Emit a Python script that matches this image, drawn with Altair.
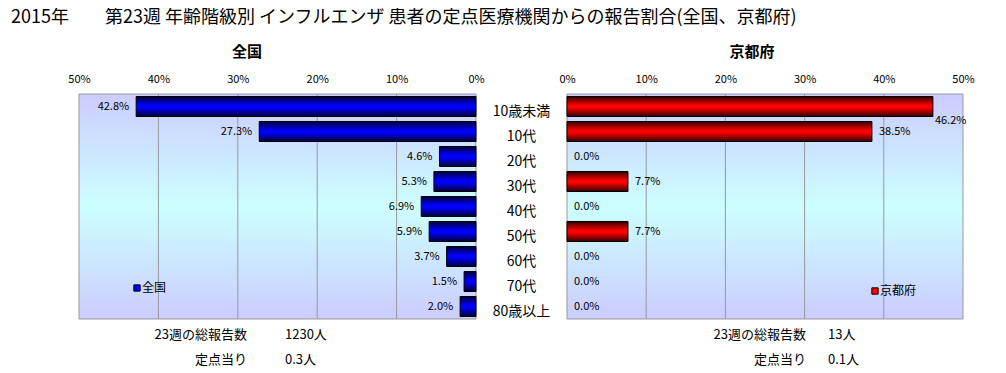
import altair as alt
import pandas as pd

# ---- data ----
ages = ["10歳未満", "10代", "20代", "30代", "40代", "50代", "60代", "70代", "80歳以上"]
national = [42.8, 27.3, 4.6, 5.3, 6.9, 5.9, 3.7, 1.5, 2.0]
kyoto = [46.2, 38.5, 0.0, 7.7, 0.0, 7.7, 0.0, 0.0, 0.0]
pct_ticks = [0, 10, 20, 30, 40, 50]
grid_ticks = [10, 20, 30, 40]
title_text = "2015年　　第23週 年齢階級別 インフルエンザ 患者の定点医療機関からの報告割合(全国、京都府)"
panel_titles = ["全国", "京都府"]
summary_labels = ["23週の総報告数", "定点当り"]
nat_summary = ["1230人", "0.3人"]
kyo_summary = ["13人", "0.1人"]

# ---- styling ----
FONT = "Noto Sans CJK JP"
W, H = 884, 225
LEFT_W = 397
RIGHT_X0 = 488
GRID = "#999999"


def vgrad(edge1, mid, edge2):
    return {
        "gradient": "linear", "x1": 0, "y1": 0, "x2": 0, "y2": 1,
        "stops": [
            {"offset": 0, "color": edge1},
            {"offset": 0.45, "color": mid},
            {"offset": 0.55, "color": mid},
            {"offset": 1, "color": edge2},
        ],
    }


BG = {
    "gradient": "linear", "x1": 0, "y1": 0, "x2": 0, "y2": 1,
    "stops": [
        {"offset": 0, "color": "#ccccff"},
        {"offset": 0.5, "color": "#ccffff"},
        {"offset": 1, "color": "#ccccff"},
    ],
}
BLUE = vgrad("#000033", "#0000ff", "#000033")
RED = vgrad("#330000", "#ff0000", "#330000")

df = pd.DataFrame({"age": ages, "nat": national, "kyo": kyoto})
one = pd.DataFrame({"k": [0]})
grid_df = pd.DataFrame({"t": grid_ticks})

left_scale = alt.Scale(domain=[0, 50], range=[LEFT_W, 0], nice=False, zero=True)
right_scale = alt.Scale(domain=[0, 50], range=[RIGHT_X0, W], nice=False, zero=True)
y_enc = alt.Y("age:N", scale=alt.Scale(domain=ages, paddingInner=0.2, paddingOuter=0.1), axis=None)


def pct_axis():
    return alt.Axis(orient="top", values=pct_ticks, labelExpr="datum.value + '%'",
                    grid=False, ticks=False, tickSize=0, domain=False, labelPadding=10,
                    labelFontSize=11, labelFont=FONT, labelColor="black",
                    labelFlush=False, labelOverlap=False, title="")


def text_layer(text, x, y, align="left", size=13, weight="normal"):
    return alt.Chart(one).mark_text(align=align, baseline="middle", fontSize=size, font=FONT,
                                    fontWeight=weight, color="black", lineHeight=25).encode(
        x=alt.value(x), y=alt.value(y), text=alt.value(text))


bg_left = alt.Chart(one).mark_rect(fill=BG, stroke=GRID, strokeWidth=1).encode(
    x=alt.value(0), x2=alt.value(LEFT_W), y=alt.value(0), y2=alt.value(H))
bg_right = alt.Chart(one).mark_rect(fill=BG, stroke=GRID, strokeWidth=1).encode(
    x=alt.value(RIGHT_X0), x2=alt.value(W), y=alt.value(0), y2=alt.value(H))

grid_left = alt.Chart(grid_df).mark_rule(color=GRID, strokeWidth=1).encode(
    x=alt.X("t:Q", scale=left_scale, axis=None), y=alt.value(0), y2=alt.value(H))
grid_right = alt.Chart(grid_df).mark_rule(color=GRID, strokeWidth=1).encode(
    x=alt.X("t:Q", scale=right_scale, axis=None), y=alt.value(0), y2=alt.value(H))

bars_left = alt.Chart(df).mark_bar(fill=BLUE, stroke="black", strokeWidth=1).encode(
    x=alt.X("nat:Q", scale=left_scale, axis=pct_axis(), stack=None), y=y_enc)
bars_right = alt.Chart(df).transform_filter("datum.kyo > 0").mark_bar(
    fill=RED, stroke="black", strokeWidth=1).encode(
    x=alt.X("kyo:Q", scale=right_scale, axis=pct_axis(), stack=None), y=y_enc)

lab_left = alt.Chart(df).transform_calculate(lbl="format(datum.nat, '.1f') + '%'").mark_text(
    align="right", baseline="middle", dx=-7, fontSize=11, font=FONT, color="black").encode(
    x=alt.X("nat:Q", scale=left_scale, axis=None), y=y_enc, text="lbl:N")
lab_right = alt.Chart(df).transform_filter("datum.kyo < 45").transform_calculate(
    lbl="format(datum.kyo, '.1f') + '%'").mark_text(
    align="left", baseline="middle", dx=7, fontSize=11, font=FONT, color="black").encode(
    x=alt.X("kyo:Q", scale=right_scale, axis=None), y=y_enc, text="lbl:N")
lab_right_over = alt.Chart(df).transform_filter("datum.kyo >= 45").transform_calculate(
    lbl="format(datum.kyo, '.1f') + '%'").mark_text(
    align="left", baseline="middle", dx=2, dy=14, fontSize=11, font=FONT, color="black").encode(
    x=alt.X("kyo:Q", scale=right_scale, axis=None), y=y_enc, text="lbl:N")

cats = alt.Chart(df).mark_text(align="center", baseline="middle", dy=5, fontSize=14,
                               font=FONT, color="black").encode(
    x=alt.value((LEFT_W + RIGHT_X0) / 2), y=y_enc, text="age:N")

title = text_layer(title_text, -68, -76, size=18)
ptitle_l = text_layer(panel_titles[0], 168, -42, align="center", size=15, weight="bold")
ptitle_r = text_layer(panel_titles[1], 673, -42, align="center", size=15, weight="bold")

leg_sq_l = alt.Chart(one).mark_square(size=40, fill="#0000ff", stroke="black", strokeWidth=1,
                                      opacity=1).encode(x=alt.value(58), y=alt.value(194))
leg_tx_l = text_layer(panel_titles[0], 63, 194, size=12)
leg_sq_r = alt.Chart(one).mark_square(size=40, fill="#ff0000", stroke="black", strokeWidth=1,
                                      opacity=1).encode(x=alt.value(796), y=alt.value(197))
leg_tx_r = text_layer(panel_titles[1], 801, 197, size=12)

sum_l_lab = text_layer(summary_labels, 168, 241, align="right", size=13)
sum_l_val = text_layer(nat_summary, 206, 241, align="left", size=13)
sum_r_lab = text_layer(summary_labels, 727, 241, align="right", size=13)
sum_r_val = text_layer(kyo_summary, 749, 241, align="left", size=13)

chart = alt.layer(
    bg_left, bg_right, grid_left, grid_right, bars_left, bars_right,
    lab_left, lab_right, lab_right_over, cats, title, ptitle_l, ptitle_r,
    leg_sq_l, leg_tx_l, leg_sq_r, leg_tx_r,
    sum_l_lab, sum_l_val, sum_r_lab, sum_r_val,
).resolve_scale(x="independent").properties(
    width=W, height=H,
    autosize=alt.AutoSizeParams(type="none"),
    padding={"left": 71, "top": 86, "right": 35, "bottom": 54},
).configure_view(stroke="transparent")

chart.save("out.html", embed_options={"renderer": "svg", "actions": False})
